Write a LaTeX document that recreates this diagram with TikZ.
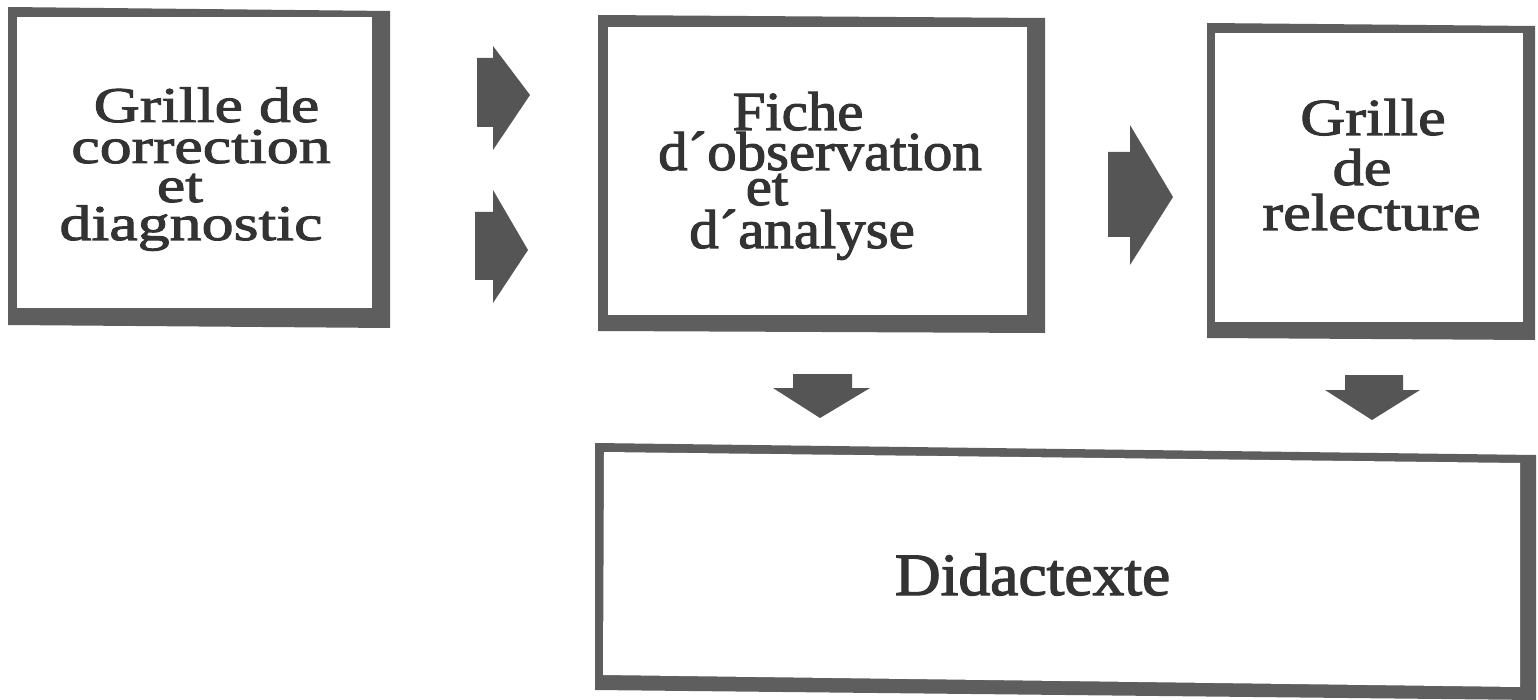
\documentclass[tikz,border=0pt]{standalone}
\usepackage{fontspec}
\newfontfamily\fonta[FakeStretch=1.28,FakeBold=2]{Liberation Serif}
\newfontfamily\fontb[FakeStretch=1.07,FakeBold=2]{Liberation Serif}
\newfontfamily\fontc[FakeStretch=1.20,FakeBold=2]{Liberation Serif}
\newfontfamily\fontd[FakeStretch=1.06,FakeBold=2]{Liberation Serif}
\definecolor{edgegray}{HTML}{5E5E5E}
\definecolor{arrowgray}{HTML}{555555}
\definecolor{inkgray}{HTML}{333333}
\tikzset{
  frame/.style={fill=edgegray},
  paper/.style={fill=white, draw=none, inner sep=0pt},
  blockarrow/.style={fill=arrowgray},
  txta/.style={anchor=base, inner sep=0pt, text=inkgray, font=\fonta\fontsize{50}{50}\selectfont},
  txtb/.style={anchor=base, inner sep=0pt, text=inkgray, font=\fontb\fontsize{55}{55}\selectfont},
  txtc/.style={anchor=base, inner sep=0pt, text=inkgray, font=\fontc\fontsize{52}{52}\selectfont},
  txtd/.style={anchor=base, inner sep=0pt, text=inkgray, font=\fontd\fontsize{60}{60}\selectfont},
}
\begin{document}
\begin{tikzpicture}[x=1pt,y=-1pt]
\useasboundingbox[fill=white] (0,0) rectangle (1538,700);

% Box 1
\fill[frame] (8,7) -- (390,11) -- (390,328) -- (8,325) -- cycle;
\node[paper, minimum width=355pt, minimum height=291pt] (b1) at (194.5,162.5) {};
\node[txta] (t1a) at (206.5,122) {Grille de};
\node[txta] (t1b) at (201,163) {correction};
\node[txta] (t1c) at (180,202) {et};
\node[txta] (t1d) at (191,240) {diagnostic};

% Box 2
\fill[frame] (598,15) -- (1045,18) -- (1045,333) -- (598,331) -- cycle;
\node[paper, minimum width=419pt, minimum height=288pt] (b2) at (817.5,171) {};
\node[txtb] (t2a) at (798,130) {Fiche};
\node[txtb] (t2b) at (820,170) {d´observation};
\node[txtb] (t2c) at (767,205) {et};
\node[txtb] (t2d) at (802,248) {d´analyse};

% Box 3
\fill[frame] (1207,23) -- (1535,26) -- (1535,340) -- (1207,338) -- cycle;
\node[paper, minimum width=308pt, minimum height=289pt] (b3) at (1369,177.5) {};
\node[txtc] (t3a) at (1373,135) {Grille};
\node[txtc] (t3b) at (1362,185) {de};
\node[txtc] (t3c) at (1371.5,230) {relecture};

% Box 4
\fill[frame] (595,443) -- (1536,455) -- (1536,700) -- (595,690) -- cycle;
\fill[white] (604,452) -- (1520,463) -- (1520,687) -- (603,675) -- cycle;
\node[paper, minimum width=900pt, minimum height=200pt] (b4) at (1061.5,569) {};
\node[txtd] (t4) at (1032.5,595) {Didactexte};

% Right-pointing block arrows
\fill[blockarrow] (477,58) -- (493,58) -- (493,46) -- (530,95) -- (493,150) -- (493,127) -- (477,127) -- cycle;
\fill[blockarrow] (475,212) -- (493,212) -- (493,190) -- (528,250) -- (493,303) -- (493,280) -- (475,280) -- cycle;
\fill[blockarrow] (1108,152) -- (1130,152) -- (1130,125) -- (1173,197) -- (1130,265) -- (1130,237) -- (1108,237) -- cycle;

% Down-pointing block arrows
\fill[blockarrow] (793,374) -- (852,374) -- (852,388) -- (870,388) -- (820,418) -- (773,388) -- (793,388) -- cycle;
\fill[blockarrow] (1345,375) -- (1403,375) -- (1403,390) -- (1420,390) -- (1372,420) -- (1325,390) -- (1345,390) -- cycle;
\end{tikzpicture}
\end{document}
